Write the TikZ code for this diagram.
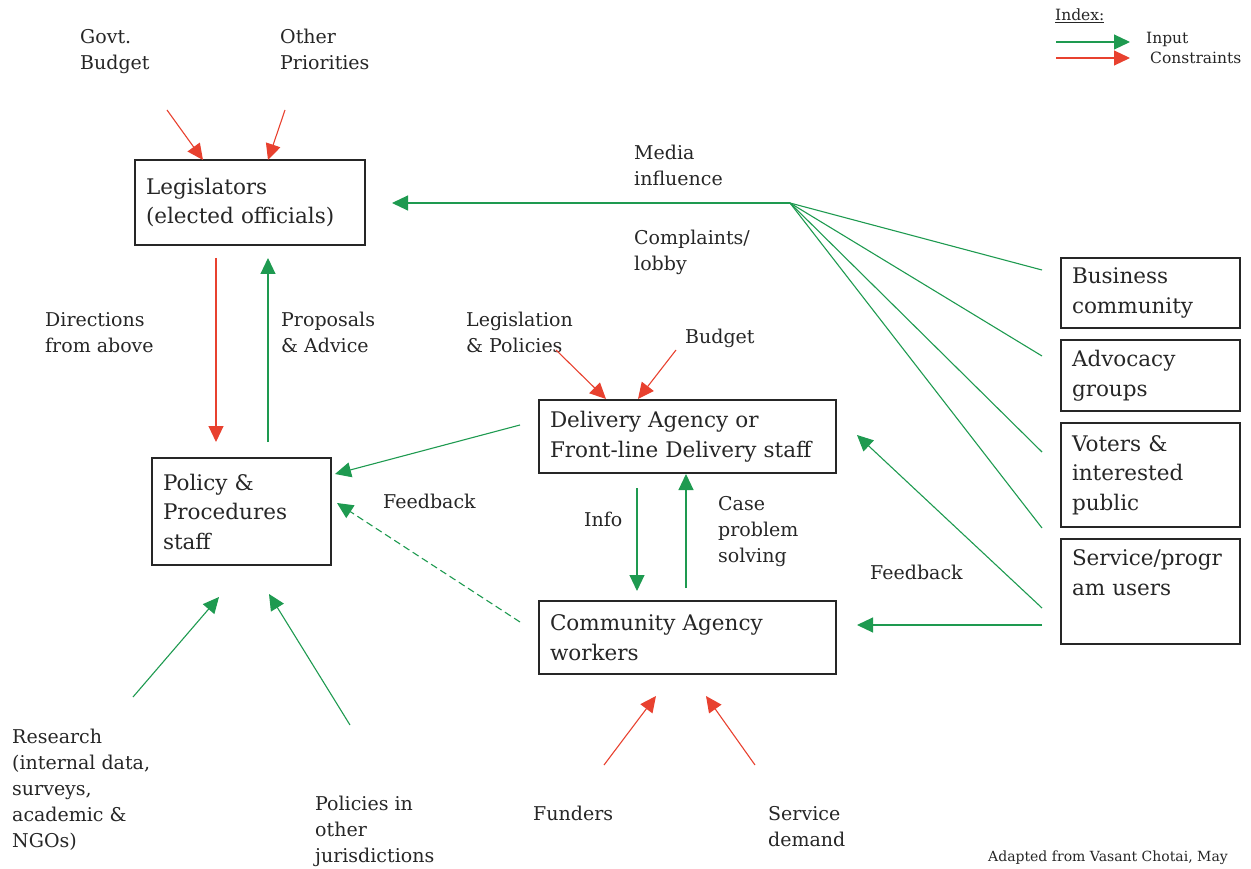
\documentclass[tikz,border=0pt]{standalone}
\usepackage{fontspec}
\setmainfont{DejaVu Serif}
\usetikzlibrary{arrows.meta}
\definecolor{ingreen}{HTML}{1E9A50}
\definecolor{cred}{HTML}{E8412F}
\definecolor{txt}{HTML}{262626}
\begin{document}
\begin{tikzpicture}[x=1pt,y=-1pt,
  box/.style={draw=black!85, line width=2.2pt, align=left, inner xsep=11pt, inner ysep=0pt,
              font=\fontsize{21.5}{29.5}\selectfont, text=txt},
  lbl/.style={anchor=north west, align=left, inner sep=0pt, font=\fontsize{19}{26}\selectfont, text=txt},
  small/.style={anchor=north west, align=left, inner sep=0pt, font=\fontsize{14}{20}\selectfont, text=txt},
  idxt/.style={anchor=north west, align=left, inner sep=0pt, font=\fontsize{15.5}{20}\selectfont, text=txt},
  inarr/.style={draw=ingreen, line width=1.1pt, -{Triangle[length=16pt,width=15pt]}},
  inline/.style={draw=ingreen, line width=1.1pt},
  conarr/.style={draw=cred, line width=1.1pt, -{Triangle[length=16pt,width=15pt]}}]
\useasboundingbox (0,0) rectangle (1251,869);

% boxes
\node[box, text width=208pt, minimum height=85pt] (leg) at (250,202.5) {Legislators\\(elected officials)};
\node[box, text width=157pt, minimum height=107pt] (pol) at (241.5,511.5) {Policy \&\\Procedures\\staff};
\node[box, text width=275pt, minimum height=73pt] (del) at (687.5,436.5) {Delivery Agency or\\Front-line Delivery staff};
\node[box, text width=275pt, minimum height=73pt] (com) at (687.5,637.5) {Community Agency\\workers};
\node[box, text width=157pt, minimum height=70pt] (bus) at (1150.5,293) {Business\\community};
\node[box, text width=157pt, minimum height=71pt] (adv) at (1150.5,375.5) {Advocacy\\groups};
\node[box, text width=157pt, minimum height=104pt] (vot) at (1150.5,475) {Voters \&\\interested\\public};
\node[box, text width=157pt, minimum height=105pt] (srv) at (1150.5,591.5) {Service/progr\\am users\\\strut};

% labels
\node[lbl] (govt) at (80,29) {Govt.\\Budget};
\node[lbl] (othp) at (280,29) {Other\\Priorities};
\node[lbl] (media) at (634,145) {Media\\influence};
\node[lbl] (compl) at (634,230) {Complaints/\\lobby};
\node[lbl] (dirab) at (45,312) {Directions\\from above};
\node[lbl] (propa) at (281,312) {Proposals\\\& Advice};
\node[lbl] (legpo) at (466,312) {Legislation\\\& Policies};
\node[lbl] (budg) at (685,329) {Budget};
\node[lbl] (fb1) at (383,494) {Feedback};
\node[lbl] (info) at (584,512) {Info};
\node[lbl] (case) at (718,496) {Case\\problem\\solving};
\node[lbl] (fb2) at (870,565) {Feedback};
\node[lbl] (resr) at (12,729) {Research\\(internal data,\\surveys,\\academic \&\\NGOs)};
\node[lbl] (poloj) at (315,796) {Policies in\\other\\jurisdictions};
\node[lbl] (fund) at (533,806) {Funders};
\node[lbl] (sdem) at (768,806) {Service\\demand};
\node[small] (credit) at (988,851) {Adapted from Vasant Chotai, May};

% index
\node[idxt] (idx) at (1055,9) {\underline{Index:}};
\node[idxt] (iin) at (1146,32) {Input};
\node[idxt] (icon) at (1150,52) {Constraints};
\coordinate (ig1) at (1056,42); \coordinate (ig2) at (1130,42);
\coordinate (ir1) at (1056,58); \coordinate (ir2) at (1130,58);
\draw[inarr] (ig1) -- (ig2);
\draw[conarr] (ir1) -- (ir2);

% coordinates
\coordinate (gbS) at (167,110); \coordinate (gbE) at (203,160);
\coordinate (opS) at (285,110); \coordinate (opE) at (268,160);
\coordinate (dS) at (216,258); \coordinate (dE) at (216,442);
\coordinate (pS) at (268,442); \coordinate (pE) at (268,258);
\coordinate (hub) at (790,203); \coordinate (hubE) at (392,203);
\coordinate (b1) at (1042,270); \coordinate (b2) at (1042,356);
\coordinate (b3) at (1042,452); \coordinate (b4) at (1042,528);
\coordinate (fbS) at (1042,608); \coordinate (fbE) at (857,435);
\coordinate (hS) at (1042,625); \coordinate (hE) at (857,625);
\coordinate (dpS) at (520,425); \coordinate (dpE) at (335,474);
\coordinate (cpS) at (520,622); \coordinate (cpE) at (337,503);
\coordinate (lpS) at (556,350); \coordinate (lpE) at (606,399);
\coordinate (buS) at (676,350); \coordinate (buE) at (638,399);
\coordinate (inS) at (637,488); \coordinate (inE) at (637,591);
\coordinate (caS) at (686,588); \coordinate (caE) at (686,474);
\coordinate (fuS) at (604,765); \coordinate (fuE) at (656,696);
\coordinate (sdS) at (755,765); \coordinate (sdE) at (706,696);
\coordinate (reS) at (133,697); \coordinate (reE) at (219,597);
\coordinate (ojS) at (350,725); \coordinate (ojE) at (269,594);

% connectors
\draw[conarr] (gbS) -- (gbE);
\draw[conarr] (opS) -- (opE);
\draw[conarr] (dS) -- (dE);
\draw[inarr] (pS) -- (pE);
\draw[inarr] (hub) -- (hubE);
\draw[inline] (hub) -- (b1);
\draw[inline] (hub) -- (b2);
\draw[inline] (hub) -- (b3);
\draw[inline] (hub) -- (b4);
\draw[inarr] (fbS) -- (fbE);
\draw[inarr] (hS) -- (hE);
\draw[inarr] (dpS) -- (dpE);
\draw[inarr, dash pattern=on 7pt off 4pt] (cpS) -- (cpE);
\draw[conarr] (lpS) -- (lpE);
\draw[conarr] (buS) -- (buE);
\draw[inarr] (inS) -- (inE);
\draw[inarr] (caS) -- (caE);
\draw[conarr] (fuS) -- (fuE);
\draw[conarr] (sdS) -- (sdE);
\draw[inarr] (reS) -- (reE);
\draw[inarr] (ojS) -- (ojE);
\end{tikzpicture}
\end{document}
